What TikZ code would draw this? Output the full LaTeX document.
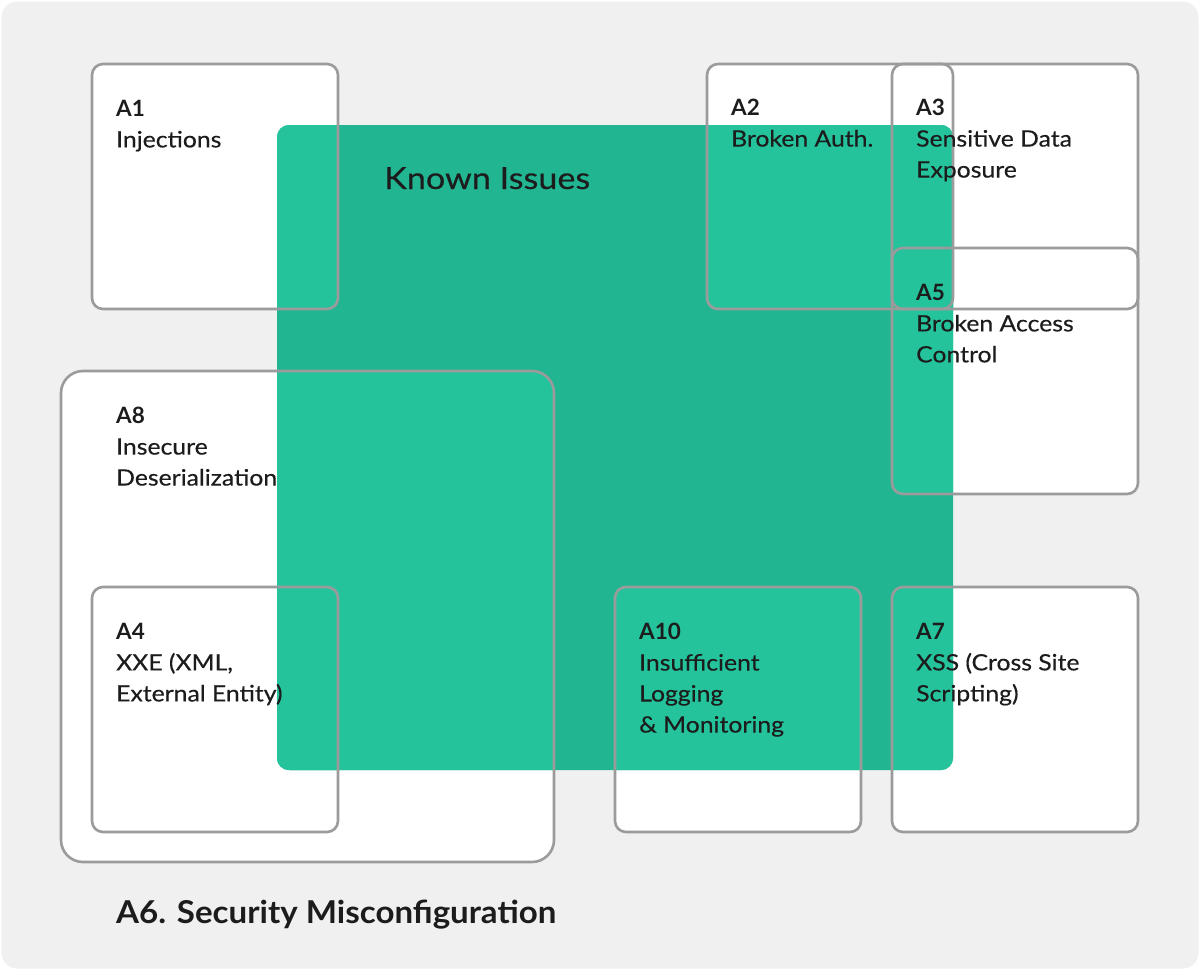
\documentclass[tikz,border=0pt]{standalone}
\usepackage{fontspec}
\setmainfont{Lato}
\newfontfamily\bodyf{Lato}[FakeStretch=1.1, FakeBold=0.35]
\newfontfamily\headf{Lato}[FakeStretch=1.12, FakeBold=0.35]
\newfontfamily\mainf{Lato}[FakeStretch=1.05]
\definecolor{bgray}{HTML}{F0F0F0}
\definecolor{bord}{HTML}{9B9B9B}
\definecolor{gdark}{HTML}{22B592}
\definecolor{glight}{HTML}{24C39C}
\definecolor{ink}{HTML}{1C1C1C}
\newcommand{\lab}[1]{{\normalfont\bfseries #1}}
\tikzset{
  frame/.style={draw=bord, line width=2.6pt, rounded corners=11pt},
  lbl/.style={anchor=north west, inner sep=0pt, align=left, text=ink,
    font=\fontsize{22.5}{31}\selectfont\bodyf},
  head/.style={anchor=base west, inner sep=0pt, text=ink}
}
\def\bA{(92,64) rectangle (338,309)}
\def\bB{(707,64) rectangle (953,309)}
\def\bC{(892,64) rectangle (1138,309)}
\def\bE{(892,248) rectangle (1138,494)}
\def\bD{(92,587) rectangle (338,832)}
\def\bJ{(615,587) rectangle (861,832)}
\def\bG{(892,587) rectangle (1138,832)}
\def\bH{(61,371) rectangle (554,862)}
\begin{document}
\begin{tikzpicture}[x=1pt,y=-1pt]
\useasboundingbox (0,0) rectangle (1200,970);
\fill[white] (0,0) rectangle (1200,970);
\fill[bgray, rounded corners=16pt] (1.5,1.5) rectangle (1198.5,968.5);
% white box fills
\begin{scope}[rounded corners=11pt]
\fill[white] \bA; \fill[white] \bB; \fill[white] \bC; \fill[white] \bE;
\fill[white] \bD; \fill[white] \bJ; \fill[white] \bG;
\end{scope}
\fill[white, rounded corners=22pt] \bH;
% known issues area
\fill[gdark, rounded corners=12pt] (277,125) rectangle (953,770);
\begin{scope}
\clip[rounded corners=12pt] (277,125) rectangle (953,770);
\begin{scope}[rounded corners=11pt]
\fill[glight] \bA; \fill[glight] \bB; \fill[glight] \bC; \fill[glight] \bE;
\fill[glight] \bD; \fill[glight] \bJ; \fill[glight] \bG;
\end{scope}
\fill[glight, rounded corners=22pt] \bH;
\end{scope}
% frames
\draw[frame, rounded corners=22pt] \bH;
\draw[frame] \bA; \draw[frame] \bB; \draw[frame] \bC; \draw[frame] \bE;
\draw[frame] \bD; \draw[frame] \bJ; \draw[frame] \bG;
% texts
\node[lbl] (t1) at (116,99.9) {\lab{A1}\\Injections};
\node[lbl] (t2) at (731,98.9) {\lab{A2}\\Broken Auth.};
\node[lbl] (t3) at (916,98.9) {\lab{A3}\\Sensitive Data\\Exposure};
\node[lbl] (t5) at (916,283.9) {\lab{A5}\\Broken Access\\Control};
\node[lbl] (t8) at (116,406.9) {\lab{A8}\\Insecure\\Deserialization};
\node[lbl] (t4) at (116,622.9) {\lab{A4}\\XXE (XML,\\External Entity)};
\node[lbl] (t10) at (639,622.9) {\lab{A10}\\Insufficient\\Logging\\\& Monitoring};
\node[lbl] (t7) at (916,622.9) {\lab{A7}\\XSS (Cross Site\\Scripting)};
\node[head, font=\fontsize{30.5}{36}\selectfont\headf] (known) at (384,189) {Known Issues};
\node[head, font=\fontsize{31.5}{38}\selectfont\mainf\bfseries] (a6) at (116,923.3) {A6. Security Misconfiguration};
\end{tikzpicture}
\end{document}
